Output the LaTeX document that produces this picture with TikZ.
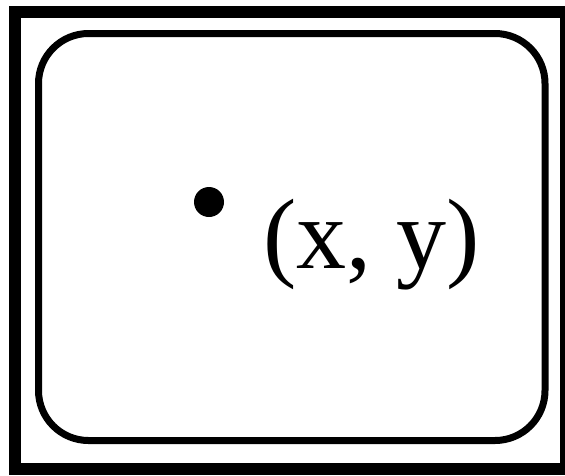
\documentclass[tikz,border=0pt]{standalone}
\usepackage{fontspec}
\setmainfont{Liberation Serif}
\usepackage{tikz}

\begin{document}
\begin{tikzpicture}[x=1pt,y=-1pt]
\tikzstyle{frame}=[draw, line width=12pt]
\tikzstyle{panel}=[draw, line width=7pt, rounded corners=50pt]
\tikzstyle{point}=[circle, fill=black, inner sep=0pt, minimum size=30pt]
\useasboundingbox (0,0) rectangle (565,475);
\draw[frame] (15,12) rectangle (566,469);
\draw[panel] (38.5,33.5) rectangle (545,440.5);
\node[point] (P) at (209,202) {};
\node[anchor=base west,inner sep=0pt,font=\fontsize{100}{120}\selectfont] (lbl) at (263,268) {(x, y)};
\end{tikzpicture}
\end{document}
